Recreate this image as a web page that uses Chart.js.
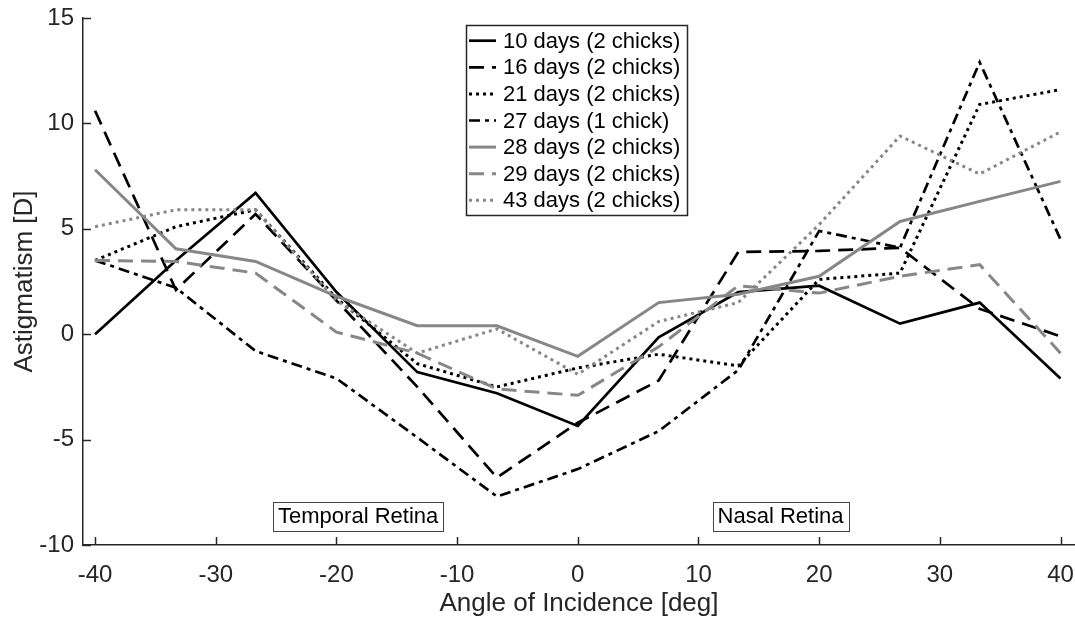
<!DOCTYPE html>
<html>
<head>
<meta charset="utf-8">
<script src="https://cdn.jsdelivr.net/npm/chart.js@4"></script>
<style>
  html, body { margin: 0; padding: 0; background: #fff; }
  canvas { display: block; }
</style>
</head>
<body>
<canvas id="myChart" width="1075" height="619"></canvas>
<script>
// angle of incidence (deg)
const angles = [-40, -33.3, -26.7, -20, -13.3, -6.7, 0, 6.7, 13.3, 20, 26.7, 33.3, 40];

// astigmatism (D) per age group
const days10 = [0, 3.5, 6.7, 2.0, -1.8, -2.8, -4.35, -0.15, 2.0, 2.3, 0.5, 1.5, -2.1];
const days16 = [10.6, 2.1, 5.7, 1.6, -2.5, -6.8, -4.2, -2.2, 3.9, 3.95, 4.1, 1.2, -0.1];
const days21 = [3.5, 5.1, 5.9, 1.7, -1.4, -2.5, -1.6, -0.95, -1.5, 2.6, 2.9, 10.9, 11.6];
const days27 = [3.5, 2.2, -0.8, -2.1, -4.9, -7.7, -6.4, -4.6, -1.7, 4.9, 4.1, 12.9, 4.5];
const days28 = [7.8, 4.05, 3.45, 1.8, 0.4, 0.4, -1.05, 1.5, 1.9, 2.75, 5.35, 6.3, 7.25];
const days29 = [3.5, 3.45, 2.9, 0.1, -0.9, -2.6, -2.9, -0.6, 2.3, 1.95, 2.75, 3.3, -0.9];
const days43 = [5.1, 5.9, 5.9, 1.6, -0.9, 0.25, -1.9, 0.6, 1.5, 5.2, 9.4, 7.6, 9.6];

const seriesLabels = [
    "10 days (2 chicks)", "16 days (2 chicks)", "21 days (2 chicks)", "27 days (1 chick)",
    "28 days (2 chicks)", "29 days (2 chicks)", "43 days (2 chicks)"
];

const xTicks = [-40, -30, -20, -10, 0, 10, 20, 30, 40];
const yTicks = [-10, -5, 0, 5, 10, 15];

// text boxes on the plot
const regionLabels = ["Temporal Retina", "Nasal Retina"];
const regionX = [-18.2, 16.8];
const regionY = [-8.63, -8.63];

const BLACK = "#000000";
const GREY = "#878787";
const AXIS = "#262626";
const FONT = "'Liberation Sans', Arial, Helvetica, sans-serif";

function toPoints(values) {
    return values.map((v, i) => ({ x: angles[i], y: v }));
}

const styles = [
    { color: BLACK, width: 2.7, dash: [] },
    { color: BLACK, width: 2.7, dash: [15, 8] },
    { color: BLACK, width: 3, dash: [3, 4] },
    { color: BLACK, width: 2.7, dash: [11, 5, 4, 5] },
    { color: GREY, width: 3, dash: [] },
    { color: GREY, width: 3, dash: [15, 8] },
    { color: GREY, width: 3, dash: [3, 4] }
];

const allSeries = [days10, days16, days21, days27, days28, days29, days43];

const datasets = allSeries.map((vals, i) => ({
    label: seriesLabels[i],
    data: toPoints(vals),
    showLine: true,
    borderColor: styles[i].color,
    borderWidth: styles[i].width,
    borderDash: styles[i].dash,
    pointRadius: 0,
    pointHoverRadius: 0,
    tension: 0,
    fill: false,
    order: allSeries.length - i
}));

// inward ticks, legend box and region labels, drawn the MATLAB way
const decorPlugin = {
    id: "decor",
    afterDraw(chart) {
        const ctx = chart.ctx;
        const xs = chart.scales.x;
        const ys = chart.scales.y;
        const area = chart.chartArea;

        ctx.save();
        ctx.strokeStyle = AXIS;
        ctx.lineWidth = 1.5;
        ctx.setLineDash([]);
        xTicks.forEach(v => {
            const px = Math.round(xs.getPixelForValue(v)) + 0.5;
            ctx.beginPath();
            ctx.moveTo(px, area.bottom);
            ctx.lineTo(px, area.bottom - 8);
            ctx.stroke();
        });
        yTicks.forEach(v => {
            const py = Math.round(ys.getPixelForValue(v)) + 0.5;
            ctx.beginPath();
            ctx.moveTo(area.left, py);
            ctx.lineTo(area.left + 8, py);
            ctx.stroke();
        });

        // region text boxes
        ctx.font = "22px " + FONT;
        ctx.textAlign = "center";
        ctx.textBaseline = "middle";
        regionLabels.forEach((t, i) => {
            const cx = xs.getPixelForValue(regionX[i]);
            const cy = ys.getPixelForValue(regionY[i]);
            const w = ctx.measureText(t).width + 10;
            const h = 29;
            ctx.fillStyle = "#fff";
            ctx.fillRect(cx - w / 2, cy - h / 2, w, h);
            ctx.strokeStyle = "#444";
            ctx.lineWidth = 1;
            ctx.strokeRect(Math.round(cx - w / 2) + 0.5, Math.round(cy - h / 2) + 0.5, Math.round(w), h);
            ctx.fillStyle = "#000";
            ctx.fillText(t, cx, cy + 1);
        });

        // legend
        const lx = 466, ly = 25, lw = 221, lh = 190;
        ctx.fillStyle = "#fff";
        ctx.fillRect(lx, ly, lw, lh);
        ctx.strokeStyle = AXIS;
        ctx.lineWidth = 1.5;
        ctx.strokeRect(lx + 0.5, ly + 0.5, lw, lh);
        ctx.textAlign = "left";
        chart.data.datasets.forEach((ds, i) => {
            const rowY = 40.7 + i * 26.6;
            ctx.strokeStyle = ds.borderColor;
            ctx.lineWidth = ds.borderWidth;
            ctx.setLineDash(ds.borderDash);
            ctx.beginPath();
            ctx.moveTo(469, rowY);
            ctx.lineTo(496, rowY);
            ctx.stroke();
            ctx.setLineDash([]);
            ctx.fillStyle = "#000";
            ctx.fillText(ds.label, 503, rowY + 1);
        });
        ctx.restore();
    }
};

new Chart(document.getElementById("myChart"), {
    type: "scatter",
    data: { datasets: datasets },
    options: {
        responsive: false,
        devicePixelRatio: 1,
        animation: false,
        layout: { padding: { top: 18, right: 0, left: 0, bottom: 0 } },
        plugins: {
            legend: { display: false },
            tooltip: { enabled: false }
        },
        scales: {
            x: {
                type: "linear",
                min: -41,
                max: 41.2,
                afterBuildTicks: s => { s.ticks = xTicks.map(v => ({ value: v })); },
                afterFit: s => { s.height = 74; s.paddingLeft = 0; s.paddingRight = 0; },
                grid: { display: false, drawTicks: false },
                border: { display: true, color: AXIS, width: 1.5 },
                ticks: { color: AXIS, font: { size: 24, family: FONT }, padding: 16, maxRotation: 0 },
                title: {
                    display: true,
                    text: "Angle of Incidence [deg]",
                    color: AXIS,
                    font: { size: 26, family: FONT },
                    padding: { top: 0, bottom: 0 }
                }
            },
            y: {
                type: "linear",
                min: -10,
                max: 15,
                afterBuildTicks: s => { s.ticks = yTicks.map(v => ({ value: v })); },
                afterFit: s => { s.width = 83; s.paddingTop = 0; s.paddingBottom = 0; },
                grid: { display: false, drawTicks: false },
                border: { display: true, color: AXIS, width: 1.5 },
                ticks: { color: AXIS, font: { size: 24, family: FONT }, padding: 9 },
                title: {
                    display: true,
                    text: "Astigmatism [D]",
                    color: AXIS,
                    font: { size: 26, family: FONT },
                    padding: { top: 9, bottom: 0 }
                }
            }
        }
    },
    plugins: [decorPlugin]
});
</script>
</body>
</html>
